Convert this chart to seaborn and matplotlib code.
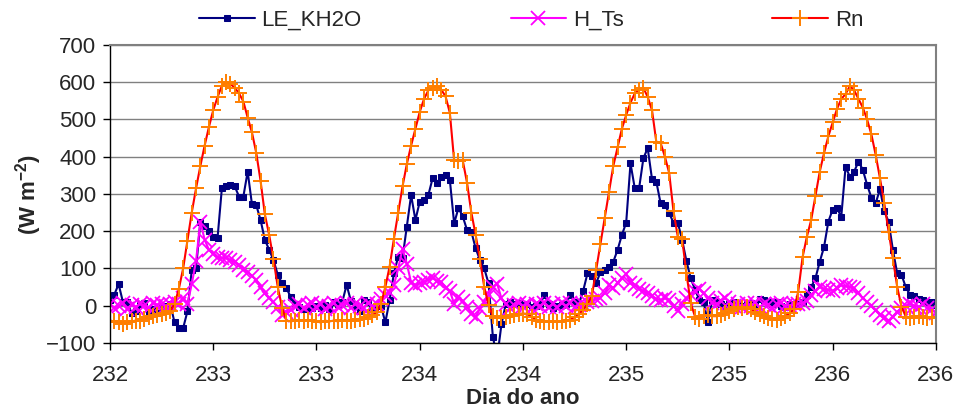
import numpy as np
import pandas as pd
import seaborn as sns
import matplotlib
matplotlib.use('Agg')
from matplotlib import pyplot as plt

sns.set_style('white')
plt.rcParams['font.family'] = ['Liberation Sans', 'DejaVu Sans']
plt.rcParams['mathtext.fontset'] = 'custom'
plt.rcParams['mathtext.rm'] = 'Liberation Sans'
plt.rcParams['mathtext.bf'] = 'Liberation Sans:bold'

# half-hourly values, day 232.0 -> 236.0
day_start = 232
steps_per_day = 48

rn = [
    -40, -42, -45, -48, -45, -42, -40, -40, -35, -30, -28, -25, -22, -20, -15,
    5, 45, 100, 175, 250, 315, 375, 430, 480, 525, 560, 590, 600, 595, 585,
    570, 548, 505, 465, 410, 335, 245, 190, 125, 50, -5, -40, -42, -40, -38,
    -40, -38, -40, -42, -45, -40, -42, -40, -42, -38, -40, -40, -38, -35, -35,
    -30, -25, -18, 5, 50, 105, 180, 250, 320, 380, 430, 475, 520, 555, 578,
    585, 590, 580, 562, 518, 390, 388, 390, 330, 250, 190, 125, 50, 2, -28,
    -33, -32, -30, -28, -25, -22, -21, -22, -30, -37, -40, -43, -43, -42, -43,
    -42, -40, -37, -30, -21, -12, 5, 25, 95, 165, 235, 305, 375, 425, 475,
    512, 545, 570, 580, 585, 560, 525, 440, 437, 400, 356, 253, 185, 180, 87,
    7, -29, -35, -28, -25, -28, -28, -25, -20, -15, -8, -3, -5, -3, -10,
    -16, -22, -28, -32, -36, -38, -32, -28, -20, -10,
    38, 130, 185, 230, 295, 360, 410, 455, 492, 528, 555, 568, 590, 578, 555,
    532, 500, 460, 405, 342, 275, 199, 127, 51, -3, -29, -32, -30, -28, -30,
    -32, -30, -30,
]

le = [
    15, 30, 58, 10, 10, -20, -15, 5, 8, -25, -10, -20, -5, 0, 5,
    -45, -60, -60, -15, 96, 100, 226, 215, 200, 185, 182, 315, 320, 325, 320,
    293, 293, 360, 272, 270, 230, 177, 150, 123, 83, 60, 47, 24, 5, -3,
    -8, -10, -5, 0, -5, 3, -10, 10, 5, 10, 56, 13, 0, -13, 15,
    10, -5, 0, 0, -45, 15, 87, 132, 128, 212, 297, 230, 279, 285, 297,
    342, 330, 346, 351, 338, 221, 262, 240, 203, 199, 154, 123, 100, 60, -83,
    -140, -50, 4, 10, 5, 8, 2, 5, -3, 0, 5, 29, 5, -5, 0,
    3, 5, 29, 10, 5, 40, 87, 80, 60, 90, 96, 105, 118, 150, 190,
    223, 382, 315, 315, 396, 423, 340, 333, 275, 270, 248, 223, 223, 177, 120,
    74, 43, 16, 10, -45, 16, 10, 5, 0, 5, 10, 5, 0, 5, 8,
    5, 19, 15, 10, 5, 10, 0, -3, 5, 5,
    5, 10, 30, 50, 74, 118, 158, 226, 258, 262, 239, 373, 346, 360, 387,
    365, 325, 290, 275, 313, 253, 226, 150, 87, 83, 50, 29, 25, 19, 15,
    10, 10, 2,
]

h_ts = [
    5, -5, 0, 8, -8, 3, -3, 5, 0, -5, 8, 3, 5, 0, 5,
    10, 5, 20, 5, 58, 120, 226, 177, 150, 140, 130, 128, 128, 122, 118,
    110, 96, 90, 80, 70, 50, 33, 20, 10, -3, -25, -18, -12, 0, 5,
    -5, 3, 8, -3, 5, -8, 0, 6, -4, 2, 8, -6, 4, 0, -5,
    8, 0, 5, 18, 30, 35, 56, 100, 153, 113, 62, 56, 60, 65, 70,
    74, 67, 65, 47, 40, 5, 24, 13, -3, -21, -30, -8, 10, 30, 51,
    59, 20, 5, -5, 3, 8, -2, 5, -6, 4, 0, 7, -3, 5, -4,
    6, 0, 8, -3, 2, 5, 10, 12, 18, 21, 35, 55, 47, 60, 75,
    85, 60, 55, 45, 40, 33, 25, 19, 15, 20, 16, 0, -15, 5, 20,
    29, 40, 45, 35, 20, 8, 5, 12, 21, 10, 0, 5, -3, 6, 0,
    8, -4, 5, 2, -6, 4, 8, 0, 0, 5,
    5, 8, 13, 30, 40, 50, 45, 43, 40, 47, 55, 52, 51, 48, 33,
    20, 10, 0, -12, -25, -34, -40, -30, -16, -7, 0, 5, 0, -3, 5,
    -5, -10, -20,
]

tick_pos = [232, 232.5, 233, 233.5, 234, 234.5, 235, 235.5, 236]
tick_labels = ['232', '233', '233', '234', '234', '235', '235', '236', '236']

dia = day_start + np.arange(len(rn)) / steps_per_day
df = pd.DataFrame({'dia': dia, 'LE_KH2O': le, 'H_Ts': h_ts, 'Rn': rn})

fig, ax = plt.subplots(figsize=(9.55, 4.12), dpi=100)
fig.subplots_adjust(left=0.1152, right=0.980, top=0.891, bottom=0.1675)

sns.lineplot(data=df, x='dia', y='LE_KH2O', ax=ax, color='#000080', lw=1.5,
             marker='s', markersize=5, markeredgecolor='#000080', label='LE_KH2O')
sns.lineplot(data=df, x='dia', y='H_Ts', ax=ax, color='#FF00FF', lw=1.5,
             marker='x', markersize=10, markeredgewidth=1.3, markeredgecolor='#FF00FF', label='H_Ts')
sns.lineplot(data=df, x='dia', y='Rn', ax=ax, color='#FF0000', lw=1.5,
             marker='+', markersize=12, markeredgewidth=1.4, markeredgecolor='#FF7F00', label='Rn')

ax.set_xlim(232, 236)
ax.set_ylim(-100, 700)
ax.set_yticks(range(-100, 701, 100))
ax.set_xticks(tick_pos)
ax.set_xticklabels(tick_labels)
ax.tick_params(axis='both', labelsize=16, direction='out', length=5, width=1,
               color='black', left=True, bottom=True)
ax.tick_params(axis='x', pad=11)
ax.tick_params(axis='y', pad=5)

ax.yaxis.grid(True, color='#808080', lw=1)
ax.xaxis.grid(False)
ax.set_axisbelow(True)
for side in ['top', 'right']:
    ax.spines[side].set_color('#808080')
    ax.spines[side].set_linewidth(1.5)
for side in ['left', 'bottom']:
    ax.spines[side].set_color('black')
    ax.spines[side].set_linewidth(1)

ax.set_xlabel('Dia do ano', fontsize=16, fontweight='bold', labelpad=1)
ax.set_ylabel('(W m$^{\\mathbf{-2}}$)', fontsize=16, fontweight='bold', labelpad=1)

ax.legend(loc='lower center', bbox_to_anchor=(0.51, 0.98), ncol=3, frameon=False,
          fontsize=16, handlelength=2.5, columnspacing=6.7, handletextpad=0.3)

plt.savefig('out.png', dpi=100)
